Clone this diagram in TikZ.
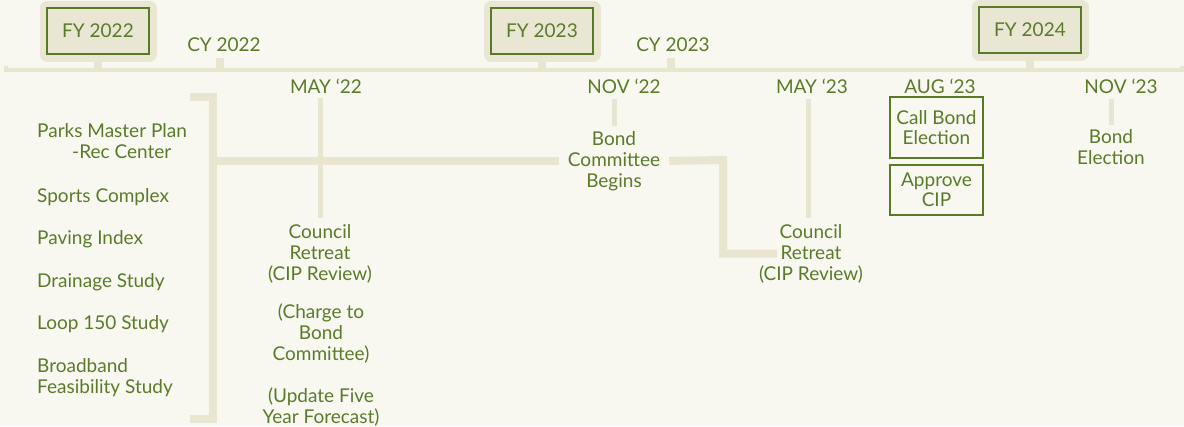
\documentclass[tikz,border=0pt]{standalone}
\usepackage{fontspec}
\setmainfont{Lato}
\usetikzlibrary{positioning}

\definecolor{paper}{HTML}{F8F7F0}
\definecolor{rule}{HTML}{E8E5D0}
\definecolor{leaf}{HTML}{5B7B2B}
\definecolor{frame}{HTML}{587A26}
\definecolor{halo}{HTML}{E9E6D4}

\tikzset{
  lbl/.style={text=leaf, font=\fontsize{19}{21}\selectfont, align=center, inner sep=0pt},
  fybox/.style={lbl, draw=frame, line width=2.5pt, fill=halo, minimum width=102pt, minimum height=46pt,
    preaction={draw=halo, line width=15pt, line join=round}},
  actbox/.style={lbl, draw=frame, line width=2.5pt, minimum width=93pt, font=\fontsize{19}{20}\selectfont},
  tick/.style={draw=rule, line width=5pt},
  bar/.style={draw=rule, line width=8pt},
}

\begin{document}
\begin{tikzpicture}[x=1pt, y=-1pt]
        \fill[paper] (0,0) rectangle (1184,426);
        \useasboundingbox (0,0) rectangle (1184,426);

        % timeline
        \coordinate (tlL) at (6,70);
        \coordinate (tlR) at (1182,70);
        \draw[rule, line width=4.5pt] ([yshift=4pt]tlL) -- (tlL) -- (tlR) -- ([yshift=4pt]tlR);

        % fiscal / calendar years
        \node[fybox] (fy22) at (  98, 31) {FY 2022};
        \node[fybox] (fy23) at ( 542, 31) {FY 2023};
        \node[fybox] (fy24) at (1030, 30) {FY 2024};
        \node[lbl]   (cy22) at ( 224, 45) {CY 2022};
        \node[lbl]   (cy23) at ( 673, 45) {CY 2023};

        \draw[bar] ([yshift=-6pt]fy22.south) -- (fy22.south |- tlL);
        \draw[bar] ([yshift=-6pt]fy23.south) -- (fy23.south |- tlL);
        \draw[bar] ([yshift=-6pt]fy24.south) -- (fy24.south |- tlL);
        \draw[bar, shorten <=6pt] ([xshift=-4pt]cy22.south) -- ([xshift=-4pt]cy22.south |- tlL);
        \draw[bar, shorten <=6pt] ([xshift=-2pt]cy23.south) -- ([xshift=-2pt]cy23.south |- tlL);

        % months
        \node[lbl] (may22) at ( 326, 86) {MAY ‘22};
        \node[lbl] (nov22) at ( 624, 86) {NOV ‘22};
        \node[lbl] (may23) at ( 812, 86) {MAY ‘23};
        \node[lbl] (aug23) at ( 940, 86) {AUG ‘23};
        \node[lbl] (nov23) at (1121, 86) {NOV ‘23};

        % projects
        \node[lbl, anchor=north west, align=left] (parks) at (37,123) {Parks Master Plan\\\hspace*{35pt}-Rec Center};
        \node[lbl, anchor=north west, align=left] (sport) at (37,188) {Sports Complex};
        \node[lbl, anchor=north west, align=left] (paving) at (37,230) {Paving Index};
        \node[lbl, anchor=north west, align=left] (drain) at (37,273) {Drainage Study};
        \node[lbl, anchor=north west, align=left] (loop) at (37,315) {Loop 150 Study};
        \node[lbl, anchor=north west, align=left] (broad) at (37,358) {Broadband\\Feasibility Study};

        \coordinate (brTop) at (213, 97);
        \coordinate (brBot) at (213,419);
        \draw[bar, line cap=butt] ([xshift=-23pt]brTop) -- (brTop) -- (brBot) -- ([xshift=-23pt]brBot);

        % events
        \node[lbl, anchor=north] (cr22) at (320,224) {Council\\Retreat\\(CIP Review)};
        \node[lbl, anchor=north] (chg) at (321,304) {(Charge to\\Bond\\Committee)};
        \node[lbl, anchor=north] (upd) at (321,388) {(Update Five\\Year Forecast)};
        \node[lbl, anchor=north, inner xsep=9pt] (bcb) at (614,131) {Bond\\Committee\\Begins};
        \node[lbl, anchor=north] (cr23) at (811,224) {Council\\Retreat\\(CIP Review)};
        \node[actbox, minimum height=61pt] (call) at (936.5,127.5) {Call Bond\\Election};
        \node[actbox, minimum height=50pt] (cip) at (936.5,190) {Approve\\CIP};
        \node[lbl, anchor=north] (bel) at (1111,129) {Bond\\Election};

        \coordinate (elbow) at (723,160);
        \draw[bar] (bcb.west -| brTop) -- (bcb.west);
        \draw[bar] (bcb.east) -- (elbow) |- ([xshift=18pt]cr23.west);

        \draw[tick, shorten <=5pt, shorten >=6pt] (cr22.north |- may22.south) -- (cr22.north);
        \draw[tick, shorten <=5pt, shorten >=5pt] (bcb.north |- nov22.south) -- (bcb.north);
        \draw[tick, shorten <=5pt, shorten >=6pt] ([xshift=-3pt]cr23.north |- may23.south) -- ([xshift=-3pt]cr23.north);
        \draw[tick, shorten <=5pt, shorten >=4pt] (bel.north |- nov23.south) -- (bel.north);
      \end{tikzpicture}
\end{document}
